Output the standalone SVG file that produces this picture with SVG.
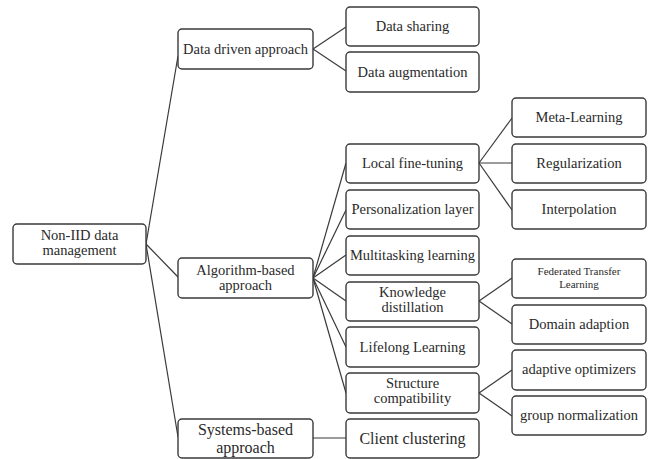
<svg xmlns="http://www.w3.org/2000/svg" width="651" height="459" viewBox="0 0 651 459">
  <style>
    .box { fill: #ffffff; stroke: #3a3a3a; stroke-width: 1.4; }
    .lbl { font-family: 'Liberation Serif', 'Times New Roman', Times, serif; font-size: 14.5px; fill: #2a2a2a; text-anchor: middle; }
    .sm { font-size: 11px; }
    .lg { font-size: 16px; }
    .links line { stroke: #3a3a3a; stroke-width: 1.2; }
  </style>
  <rect width="651" height="459" fill="#ffffff"/>

  <!-- connectors -->
  <g class="links">
    <line x1="146" y1="244" x2="178" y2="56"/>
    <line x1="146" y1="244" x2="178" y2="277"/>
    <line x1="146" y1="244" x2="178" y2="437"/>

    <line x1="313" y1="49" x2="346" y2="27"/>
    <line x1="313" y1="49" x2="346" y2="71"/>

    <line x1="313" y1="278" x2="346" y2="163"/>
    <line x1="313" y1="278" x2="346" y2="210"/>
    <line x1="313" y1="278" x2="346" y2="255"/>
    <line x1="313" y1="278" x2="346" y2="301"/>
    <line x1="313" y1="278" x2="346" y2="347"/>
    <line x1="313" y1="278" x2="346" y2="393"/>

    <line x1="313" y1="438" x2="346" y2="438"/>

    <line x1="479" y1="163" x2="512" y2="118"/>
    <line x1="479" y1="163" x2="512" y2="163"/>
    <line x1="479" y1="163" x2="512" y2="210"/>

    <line x1="479" y1="301" x2="512" y2="278"/>
    <line x1="479" y1="301" x2="512" y2="324"/>

    <line x1="479" y1="393" x2="512" y2="370"/>
    <line x1="479" y1="393" x2="512" y2="416"/>
  </g>

  <g font-family="Liberation Serif, serif">
  <!-- root -->
  <g id="root">
    <rect class="box" x="13" y="224" width="133" height="40" rx="4"/>
    <text class="lbl" x="79.5" y="239.5">Non-IID data</text>
    <text class="lbl" x="79.5" y="255">management</text>
  </g>

  <!-- first level -->
  <g id="data-driven">
    <rect class="box" x="178" y="29" width="135" height="40" rx="4"/>
    <text class="lbl" x="245.5" y="54">Data driven approach</text>
  </g>
  <g id="algorithm-based">
    <rect class="box" x="178" y="258" width="135" height="40" rx="4"/>
    <text class="lbl" x="245.5" y="274.5">Algorithm-based</text>
    <text class="lbl" x="245.5" y="290">approach</text>
  </g>
  <g id="systems-based">
    <rect class="box" x="178" y="419" width="135" height="39" rx="4"/>
    <text class="lbl lg" x="245.5" y="435">Systems-based</text>
    <text class="lbl lg" x="245.5" y="452.5">approach</text>
  </g>

  <!-- second level -->
  <g id="data-sharing">
    <rect class="box" x="346" y="7" width="133" height="39" rx="4"/>
    <text class="lbl" x="412.5" y="31">Data sharing</text>
  </g>
  <g id="data-augmentation">
    <rect class="box" x="346" y="52" width="133" height="40" rx="4"/>
    <text class="lbl" x="412.5" y="77">Data augmentation</text>
  </g>
  <g id="local-fine-tuning">
    <rect class="box" x="346" y="144" width="133" height="39" rx="4"/>
    <text class="lbl" x="412.5" y="168">Local  fine-tuning</text>
  </g>
  <g id="personalization-layer">
    <rect class="box" x="346" y="190" width="133" height="39" rx="4"/>
    <text class="lbl" x="412.5" y="214">Personalization  layer</text>
  </g>
  <g id="multitasking-learning">
    <rect class="box" x="346" y="236" width="133" height="39" rx="4"/>
    <text class="lbl" x="412.5" y="260">Multitasking  learning</text>
  </g>
  <g id="knowledge-distillation">
    <rect class="box" x="346" y="282" width="133" height="39" rx="4"/>
    <text class="lbl" x="412.5" y="296.5">Knowledge</text>
    <text class="lbl" x="412.5" y="312">distillation</text>
  </g>
  <g id="lifelong-learning">
    <rect class="box" x="346" y="327" width="133" height="40" rx="4"/>
    <text class="lbl" x="412.5" y="352">Lifelong  Learning</text>
  </g>
  <g id="structure-compatibility">
    <rect class="box" x="346" y="373" width="133" height="40" rx="4"/>
    <text class="lbl" x="412.5" y="387.5">Structure</text>
    <text class="lbl" x="412.5" y="403">compatibility</text>
  </g>
  <g id="client-clustering">
    <rect class="box" x="346" y="419" width="133" height="39" rx="4"/>
    <text class="lbl lg" x="412.5" y="444" font-size="16.5">Client  clustering</text>
  </g>

  <!-- third level -->
  <g id="meta-learning">
    <rect class="box" x="512" y="98" width="134" height="39" rx="4"/>
    <text class="lbl" x="579" y="122">Meta-Learning</text>
  </g>
  <g id="regularization">
    <rect class="box" x="512" y="144" width="134" height="39" rx="4"/>
    <text class="lbl" x="579" y="168">Regularization</text>
  </g>
  <g id="interpolation">
    <rect class="box" x="512" y="190" width="134" height="39" rx="4"/>
    <text class="lbl" x="579" y="214">Interpolation</text>
  </g>
  <g id="federated-transfer-learning">
    <rect class="box" x="512" y="259" width="134" height="39" rx="4"/>
    <text class="lbl sm" x="579" y="274.5">Federated Transfer</text>
    <text class="lbl sm" x="579" y="287.5">Learning</text>
  </g>
  <g id="domain-adaption">
    <rect class="box" x="512" y="305" width="134" height="39" rx="4"/>
    <text class="lbl" x="579" y="329">Domain  adaption</text>
  </g>
  <g id="adaptive-optimizers">
    <rect class="box" x="512" y="350" width="134" height="40" rx="4"/>
    <text class="lbl" x="579" y="374">adaptive  optimizers</text>
  </g>
  <g id="group-normalization">
    <rect class="box" x="512" y="396" width="134" height="39" rx="4"/>
    <text class="lbl" x="579" y="420">group  normalization</text>
  </g>
  </g>
</svg>
